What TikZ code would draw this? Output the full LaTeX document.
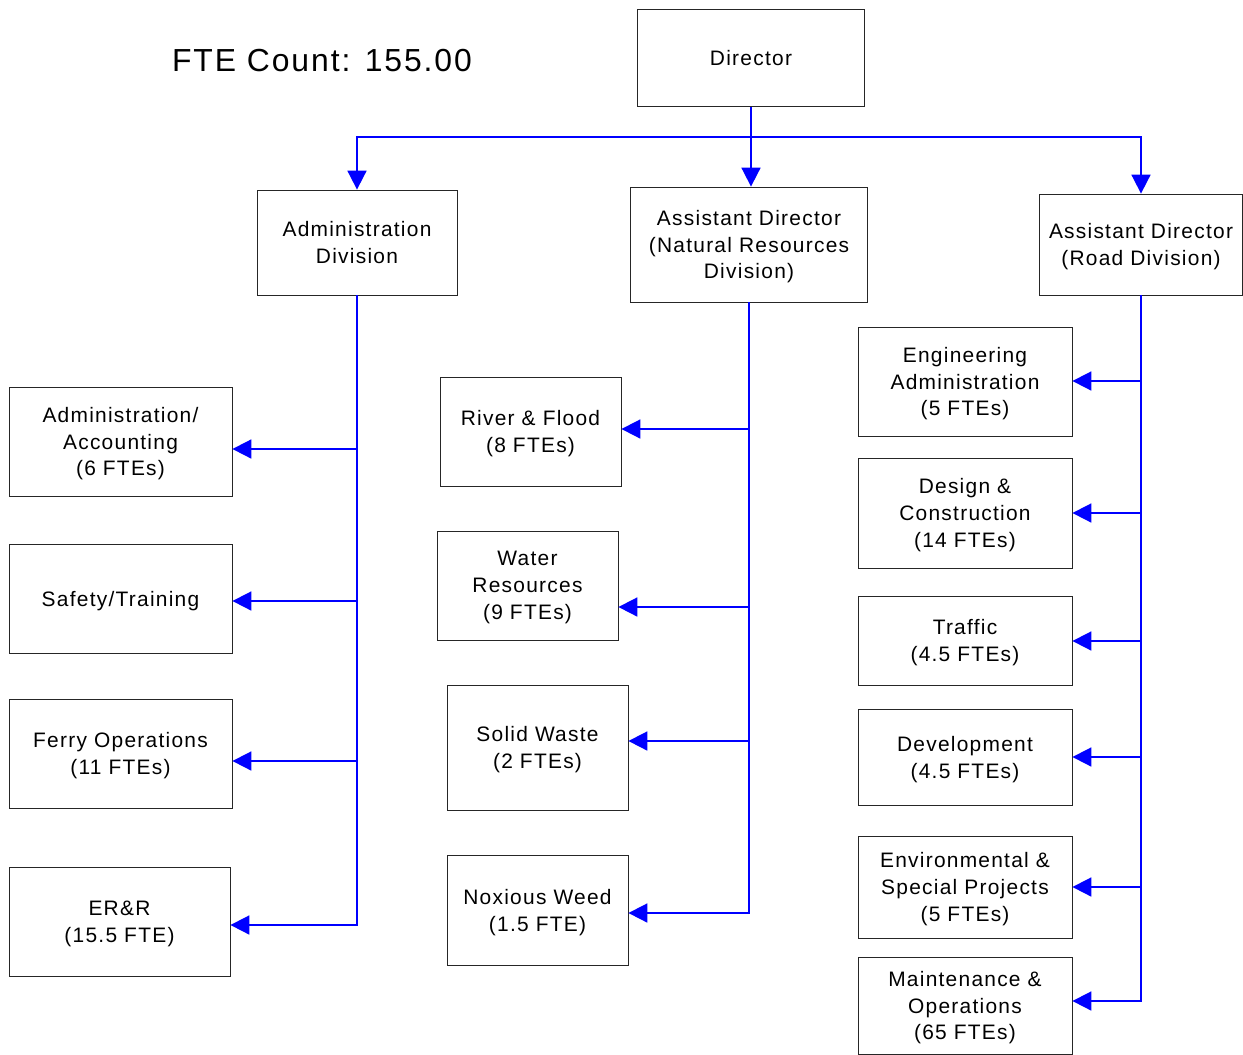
\documentclass[tikz,border=0pt]{standalone}
\usepackage{fontspec}
\setmainfont[LetterSpace=6]{Liberation Sans}
\usetikzlibrary{arrows.meta, calc}
\definecolor{linkblue}{RGB}{0,0,255}

\begin{document}
\begin{tikzpicture}[
      x=1bp, y=-1bp,
      unit/.style={rectangle, draw=black!85, line width=0.8bp, align=center, inner sep=0pt,
        text depth=0pt, font=\fontsize{21}{27}\selectfont},
      link/.style={-{Triangle[length=19bp, width=19bp]}, linkblue, line width=1.8bp},
      wire/.style={linkblue, line width=1.8bp}
    ]
    \useasboundingbox (0,0) rectangle (1243,1055);

    \node[font=\fontsize{32}{36}\selectfont] (fte) at (322,61) {FTE Count: 155.00};

    % top level
    \node[unit, minimum width=227bp, minimum height=97bp] (dir) at (751,58.1) {Director};
    \node[unit, minimum width=200bp, minimum height=105bp] (adm) at (357,242.5) {Administration\\Division};
    \node[unit, minimum width=237bp, minimum height=115bp] (anr) at (749,244.5) {Assistant Director\\(Natural Resources\\Division)};
    \node[unit, minimum width=203bp, minimum height=101bp] (ard) at (1141,244.5) {Assistant Director\\(Road Division)};

    % administration division
    \node[unit, minimum width=223bp, minimum height=109bp] (acc) at (120.5,441.5) {Administration/\\Accounting\\(6 FTEs)};
    \node[unit, minimum width=223bp, minimum height=109bp] (saf) at (120.5,598.5) {Safety/Training};
    \node[unit, minimum width=223bp, minimum height=109bp] (fer) at (120.5,753.5) {Ferry Operations\\(11 FTEs)};
    \node[unit, minimum width=221bp, minimum height=109bp] (err) at (119.5,921.5) {ER\&R\\(15.5 FTE)};

    % natural resources division
    \node[unit, minimum width=181bp, minimum height=109bp] (riv) at (530.5,431.5) {River \& Flood\\(8 FTEs)};
    \node[unit, minimum width=181bp, minimum height=109bp] (wat) at (527.5,585.5) {Water\\Resources\\(9 FTEs)};
    \node[unit, minimum width=181bp, minimum height=125bp] (sol) at (537.5,747.5) {Solid Waste\\(2 FTEs)};
    \node[unit, minimum width=181bp, minimum height=110bp] (nox) at (537.5,910) {Noxious Weed\\(1.5 FTE)};

    % road division
    \node[unit, minimum width=214bp, minimum height=109bp] (eng) at (965,381.5) {Engineering\\Administration\\(5 FTEs)};
    \node[unit, minimum width=214bp, minimum height=110bp] (des) at (965,513) {Design \&\\Construction\\(14 FTEs)};
    \node[unit, minimum width=214bp, minimum height=89bp] (tra) at (965,640.5) {Traffic\\(4.5 FTEs)};
    \node[unit, minimum width=214bp, minimum height=96bp] (dev) at (965,757) {Development\\(4.5 FTEs)};
    \node[unit, minimum width=214bp, minimum height=102bp] (env) at (965,887) {Environmental \&\\Special Projects\\(5 FTEs)};
    \node[unit, minimum width=214bp, minimum height=97bp] (mai) at (965,1005.5) {Maintenance \&\\Operations\\(65 FTEs)};

    % director to divisions
    \draw[wire] (dir.south) -- ++(0,30) coordinate (hub);
    \draw[link] (hub) -| (adm.north);
    \draw[link] (hub) -| (ard.north);
    \draw[link] (hub) -- (hub |- anr.north);

    % division to units
    \draw[link] (adm.south) |- ([yshift=-7.5bp]acc.east);
    \draw[link] (adm.south) |- ([yshift=-2.5bp]saf.east);
    \draw[link] (adm.south) |- ([yshift=-7.5bp]fer.east);
    \draw[link] (adm.south) |- ([yshift=-3.5bp]err.east);

    \draw[link] (anr.south) |- ([yshift=2.5bp]riv.east);
    \draw[link] (anr.south) |- ([yshift=-21.5bp]wat.east);
    \draw[link] (anr.south) |- ([yshift=6.5bp]sol.east);
    \draw[link] (anr.south) |- ([yshift=-3bp]nox.east);

    \draw[link] (ard.south) |- ([yshift=0.5bp]eng.east);
    \draw[link] (ard.south) |- (des.east);
    \draw[link] (ard.south) |- ([yshift=-0.5bp]tra.east);
    \draw[link] (ard.south) |- (dev.east);
    \draw[link] (ard.south) |- (env.east);
    \draw[link] (ard.south) |- ([yshift=4.5bp]mai.east);
  \end{tikzpicture}
\end{document}
